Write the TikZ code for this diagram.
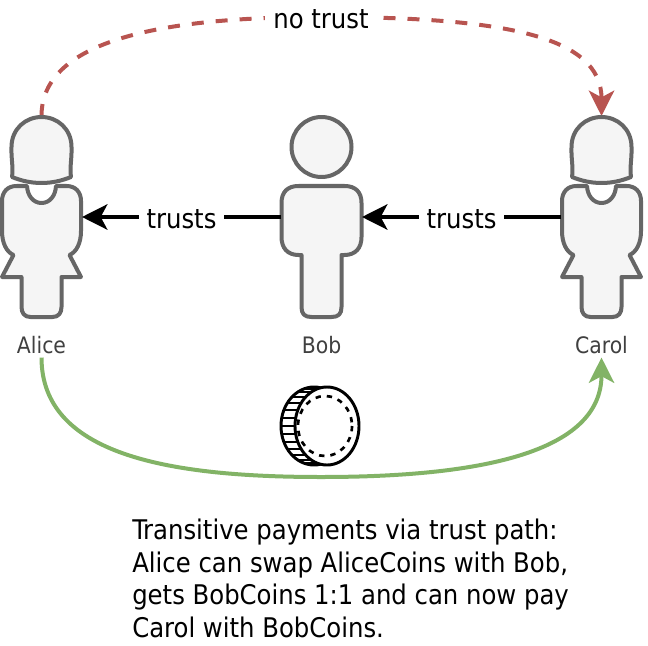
\documentclass[tikz,border=0pt]{standalone}
\usepackage{fontspec}
\setmainfont{DejaVu Sans Condensed}
\usepackage{xcolor}
\usetikzlibrary{arrows.meta, positioning, calc}

\definecolor{figfill}{HTML}{F5F5F5}
\definecolor{figline}{HTML}{666666}
\definecolor{notrustred}{HTML}{B85450}
\definecolor{paygreen}{HTML}{82B366}

\tikzset{
  womanfig/.pic={
    \draw [figshape] (-14.5,-31) .. controls (-14,-21) and (-8,-14) .. (0,-14) .. controls (8,-14) and (14,-21) .. (14.5,-31)
      -- (25,-31) .. controls (34,-31) and (39.5,-25) .. (39.5,-16) -- (39.5,14) .. controls (39.5,26) and (35,35) .. (28,38)
      -- (39.5,60) -- (20,60) -- (20,90) .. controls (20,96) and (17,100) .. (11,100) -- (-11,100) .. controls (-17,100) and (-20,96) .. (-20,90)
      -- (-20,60) -- (-39.5,60) -- (-28,38) .. controls (-35,35) and (-39.5,26) .. (-39.5,14) -- (-39.5,-16)
      .. controls (-39.5,-25) and (-34,-31) .. (-25,-31) -- cycle;
    \draw [figshape] (-29.5,-40) .. controls (-28,-50) and (-30.5,-58) .. (-30,-70) .. controls (-30,-88) and (-16,-100) .. (0,-100)
      .. controls (16,-100) and (30,-88) .. (30,-70) .. controls (30.5,-58) and (28,-50) .. (29.5,-40)
      .. controls (10,-32) and (-10,-32) .. cycle;
  },
  manfig/.pic={
    \draw [figshape] (0,-70) circle [x radius=30, y radius=30];
    \draw [figshape] (-23,-31) -- (23,-31) .. controls (34,-31) and (40,-25) .. (40,-14) -- (40,20) .. controls (40,31) and (34,38) .. (23,38)
      -- (20,38) -- (20,90) .. controls (20,97) and (17,100) .. (10,100) -- (-10,100) .. controls (-17,100) and (-20,97) .. (-20,90)
      -- (-20,38) -- (-23,38) .. controls (-34,38) and (-40,31) .. (-40,20) -- (-40,-14) .. controls (-40,-25) and (-34,-31) .. (-23,-31) -- cycle;
  }
}

\begin{document}
\begin{tikzpicture}[x=0.75pt, y=-0.75pt]
\tikzstyle{figshape} = [line width=3pt, draw=figline, fill=figfill, line join=round]
\tikzstyle{person} = [minimum width=60.75pt, minimum height=151.5pt, inner sep=0pt, outer sep=0pt]
\tikzstyle{nametext} = [font=\fontsize{17}{20}\selectfont, text=black!75, minimum height=18pt, inner sep=0pt]
\tikzstyle{linktext} = [font=\fontsize{20.3}{23}\selectfont, fill=white, inner xsep=6pt, inner ysep=2pt, yshift=-1.5pt]
\tikzstyle{arrow} = [line width=3pt, -{Stealth[length=19pt, width=19pt, inset=5pt]}]
\tikzstyle{coinline} = [line width=2.2pt, draw=black, fill=white]

\useasboundingbox (0,0) rectangle (648,645);

\node (alice) [person] at (41.5,217) {};
\node (bob) [person, right=149.25pt of alice] {};
\node (carol) [person, right=149.25pt of bob] {};
\node (alicename) [nametext, below=11.25pt of alice] {Alice};
\node (bobname) [nametext, below=11.25pt of bob] {Bob};
\node (carolname) [nametext, below=11.25pt of carol] {Carol};
\coordinate (lowpoint) at (321,477);
\coordinate (highpoint) at (321,17);

\draw [arrow, draw=notrustred, color=notrustred, dash pattern=on 9pt off 9pt] (alice.north) .. controls +(0,-75) and +(-161,0) .. (highpoint) .. controls +(179,0) and +(0,-81) .. (carol.north);
\node (notrust) [linktext] at (highpoint) {no trust};
\draw [arrow, draw=paygreen, color=paygreen] (alicename.south) .. controls +(0,96) and +(-156,0) .. (lowpoint) .. controls +(156,0) and +(0,96) .. (carolname.south);

\pic at (alice.center) {womanfig};
\pic at (bob.center) {manfig};
\pic at (carol.center) {womanfig};

\draw [arrow] (bob.west) -- node [linktext] {trusts} (alice.east);
\draw [arrow] (carol.west) -- node [linktext] {trusts} (bob.east);

% coin
\draw [coinline] (314,426) circle [x radius=33, y radius=39];
\foreach \a in {108,120,...,252} {
  \draw [line width=1.8pt] ($(314,426)+(\a:33 and 39)$) -- ($(327,426)+(\a:32 and 39)$);
}
\draw [coinline] (327,426) circle [x radius=32, y radius=39];
\draw [line width=2pt, dash pattern=on 4pt off 4.5pt] (325,426) circle [x radius=27, y radius=30];

\node (note) [anchor=north west, align=left, inner sep=0pt, font=\fontsize{20.3}{24.4}\selectfont] at (132,519) {Transitive payments via trust path:\\Alice can swap AliceCoins with Bob,\\gets BobCoins 1:1 and can now pay\\Carol with BobCoins.};
\end{tikzpicture}
\end{document}
